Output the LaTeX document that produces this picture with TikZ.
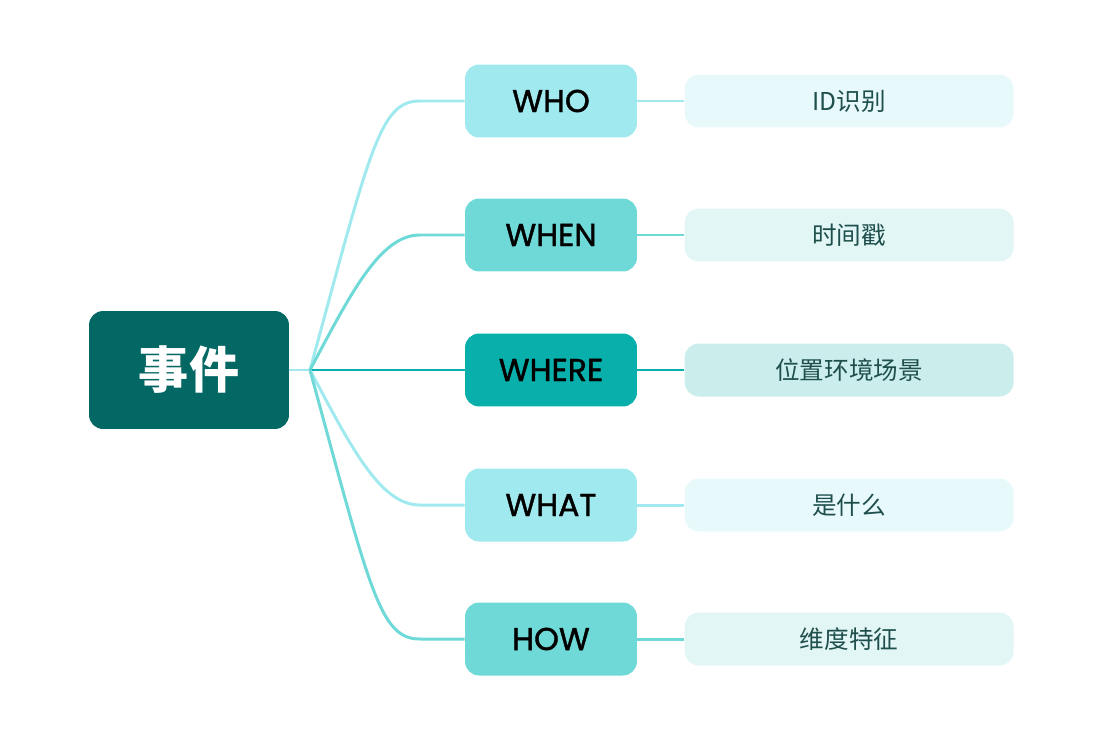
\documentclass[tikz,border=0pt]{standalone}
\usepackage{fontspec}
\setmainfont{Poppins}
\newfontfamily\cjkfont{Noto Sans CJK SC}
\newfontfamily\qfont[FakeBold=1.3]{Poppins}
\usepackage{xcolor}
\usetikzlibrary{positioning}

\definecolor{rootcol}{HTML}{036863}
\definecolor{palecol}{HTML}{A0EAEF}
\definecolor{midcol}{HTML}{6ED9D7}
\definecolor{deepcol}{HTML}{08AFAB}
\definecolor{paleleaf}{HTML}{E8F9FB}
\definecolor{midleaf}{HTML}{E1F6F5}
\definecolor{deepleaf}{HTML}{CBEEEC}
\definecolor{leaftext}{HTML}{1F4F4C}

\begin{document}
\begin{tikzpicture}[
    x=0.02cm, y=-0.02cm,
    node distance=0.94cm,
    root/.style={rounded corners=8pt, fill=rootcol, text=white, minimum width=4cm, minimum height=2.36cm, font=\cjkfont\bfseries\fontsize{28.5}{31}\selectfont},
    branch/.style={rounded corners=8pt, minimum width=3.44cm, minimum height=1.46cm, text=black, font=\qfont\fontsize{18}{20}\selectfont},
    leaf/.style={rounded corners=8pt, minimum width=6.58cm, minimum height=1.06cm, text=leaftext, font=\cjkfont\fontsize{14}{16}\selectfont},
    link/.style={line width=1.7pt}
]
\useasboundingbox (0,0) rectangle (1102,734);

% centre node
\node[root] (event) at (189,370) {事件};
\coordinate (hub) at (310,370);

% five questions
\node[branch, fill=palecol] (who) at (551,101) {WHO};
\node[branch, fill=midcol] (when) at (551,235) {WHEN};
\node[branch, fill=deepcol] (where) at (551,370) {WHERE};
\node[branch, fill=palecol] (what) at (551,505) {WHAT};
\node[branch, fill=midcol] (how) at (551,639) {HOW};

% answers
\node[leaf, fill=paleleaf, right=of who] (wholeaf) {ID识别};
\node[leaf, fill=midleaf, right=of when] (whenleaf) {时间戳};
\node[leaf, fill=deepleaf, right=of where] (whereleaf) {位置环境场景};
\node[leaf, fill=paleleaf, right=of what] (whatleaf) {是什么};
\node[leaf, fill=midleaf, right=of how] (howleaf) {维度特征};

\coordinate (whoin) at ([xshift=-0.9cm]who.west);
\coordinate (whenin) at ([xshift=-0.9cm]when.west);
\coordinate (whatin) at ([xshift=-0.9cm]what.west);
\coordinate (howin) at ([xshift=-0.9cm]how.west);

\draw[link, palecol] (event.east) -- (hub);
\draw[link, palecol] (hub) .. controls +(60,-220) and +(-40,0) .. (whoin) -- (who.west);
\draw[link, midcol] (hub) .. controls +(40,-75) and +(-40,0) .. (whenin) -- (when.west);
\draw[link, deepcol] (hub) -- (where.west);
\draw[link, palecol] (hub) .. controls +(40,75) and +(-40,0) .. (whatin) -- (what.west);
\draw[link, midcol] (hub) .. controls +(60,220) and +(-40,0) .. (howin) -- (how.west);

\draw[link, palecol] (who) -- (wholeaf);
\draw[link, midcol] (when) -- (whenleaf);
\draw[link, deepcol] (where) -- (whereleaf);
\draw[link, palecol] (what) -- (whatleaf);
\draw[link, midcol] (how) -- (howleaf);
\end{tikzpicture}
\end{document}
